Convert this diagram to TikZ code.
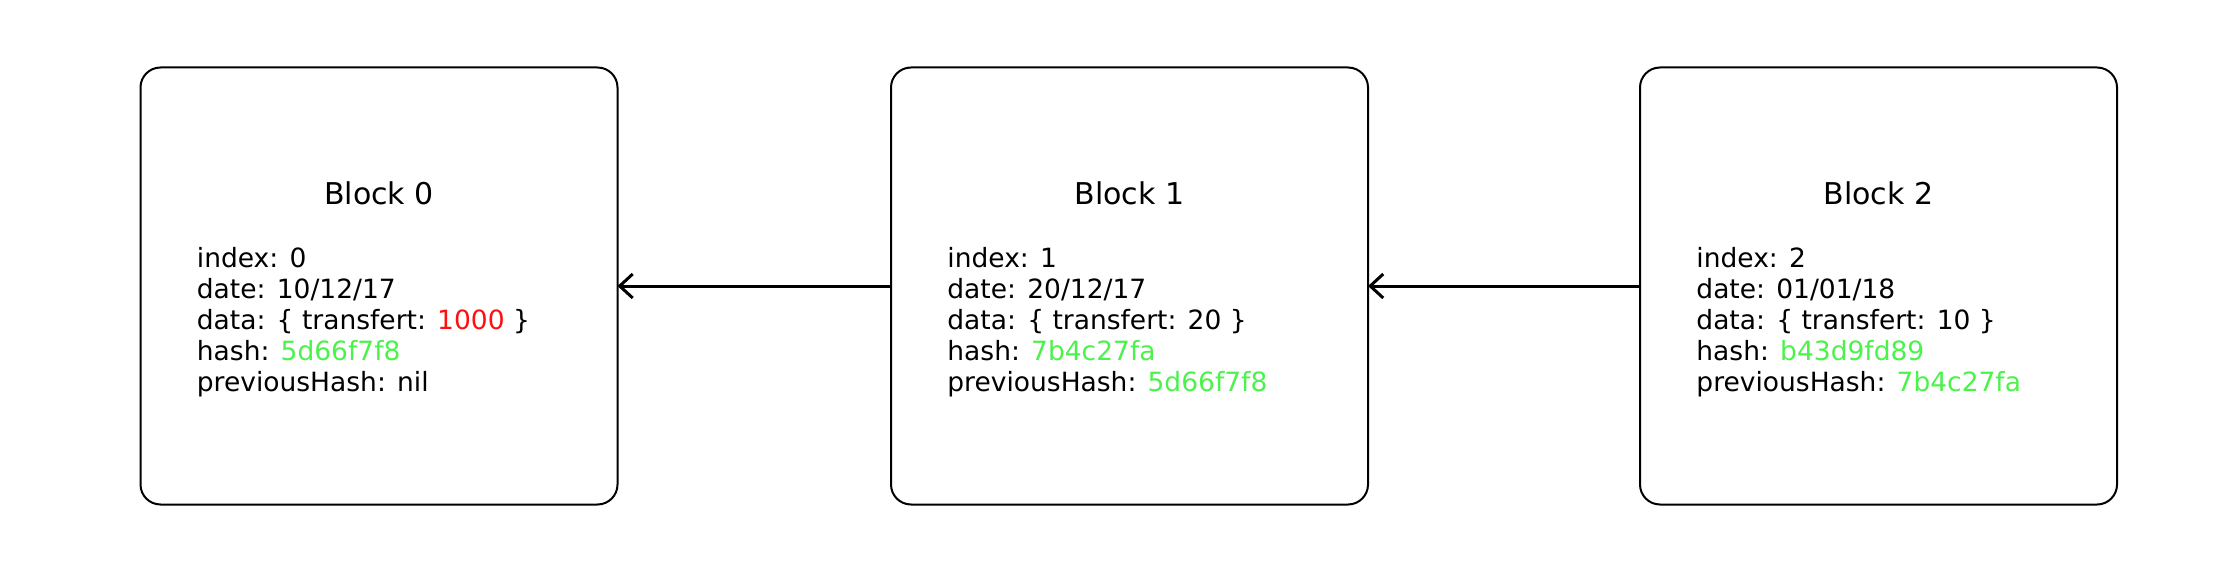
\documentclass[tikz,border=0pt]{standalone}
\usepackage{fontspec}
\setmainfont{DejaVu Sans}
\usetikzlibrary{positioning,arrows.meta}
\definecolor{hashgreen}{RGB}{76,242,76}
\definecolor{amountred}{RGB}{255,16,16}
\tikzset{
    block/.style={draw, line width=1pt, rounded corners=10pt, outer sep=0pt,
        minimum width=238.5pt, minimum height=218.5pt},
    blocktitle/.style={font=\fontsize{15}{18}\selectfont},
    fields/.style={align=left, anchor=west, inner sep=0pt,
        font=\fontsize{13.25}{15.5}\selectfont},
    link/.style={line width=1.5pt, -{Straight Barb[length=6.5pt,width=12pt]}}
}
\newcommand{\hsh}[1]{\textcolor{hashgreen}{#1}}
\begin{document}
\begin{tikzpicture}[x=0.5pt, y=-0.5pt]
    \useasboundingbox (0,0) rectangle (2236,572);
    \node [block] (blk0) at (379,286) {};
    \node [block, right=136.75pt of blk0] (blk1) {};
    \node [block, right=136pt of blk1] (blk2) {};
    % titles
    \node [blocktitle] (title0) at ([yshift=46.5pt]blk0.center) {Block 0};
    \node [blocktitle] (title1) at ([yshift=46.5pt]blk1.center) {Block 1};
    \node [blocktitle] (title2) at ([yshift=46.5pt]blk2.center) {Block 2};
    % fields
    \node [fields] (data0) at ([xshift=28pt, yshift=-18.2pt]blk0.west)
        {index: 0\\ date: 10/12/17\\ data: \{ transfert: \textcolor{amountred}{1000} \}\\
         hash: \hsh{5d66f7f8}\\ previousHash: nil};
    \node [fields] (data1) at ([xshift=28pt, yshift=-18.2pt]blk1.west)
        {index: 1\\ date: 20/12/17\\ data: \{ transfert: 20 \}\\
         hash: \hsh{7b4c27fa}\\ previousHash: \hsh{5d66f7f8}};
    \node [fields] (data2) at ([xshift=28pt, yshift=-18.2pt]blk2.west)
        {index: 2\\ date: 01/01/18\\ data: \{ transfert: 10 \}\\
         hash: \hsh{b43d9fd89}\\ previousHash: \hsh{7b4c27fa}};
    % chain
    \draw [link] (blk1.west) -- (blk0.east);
    \draw [link] (blk2.west) -- (blk1.east);
\end{tikzpicture}
\end{document}
